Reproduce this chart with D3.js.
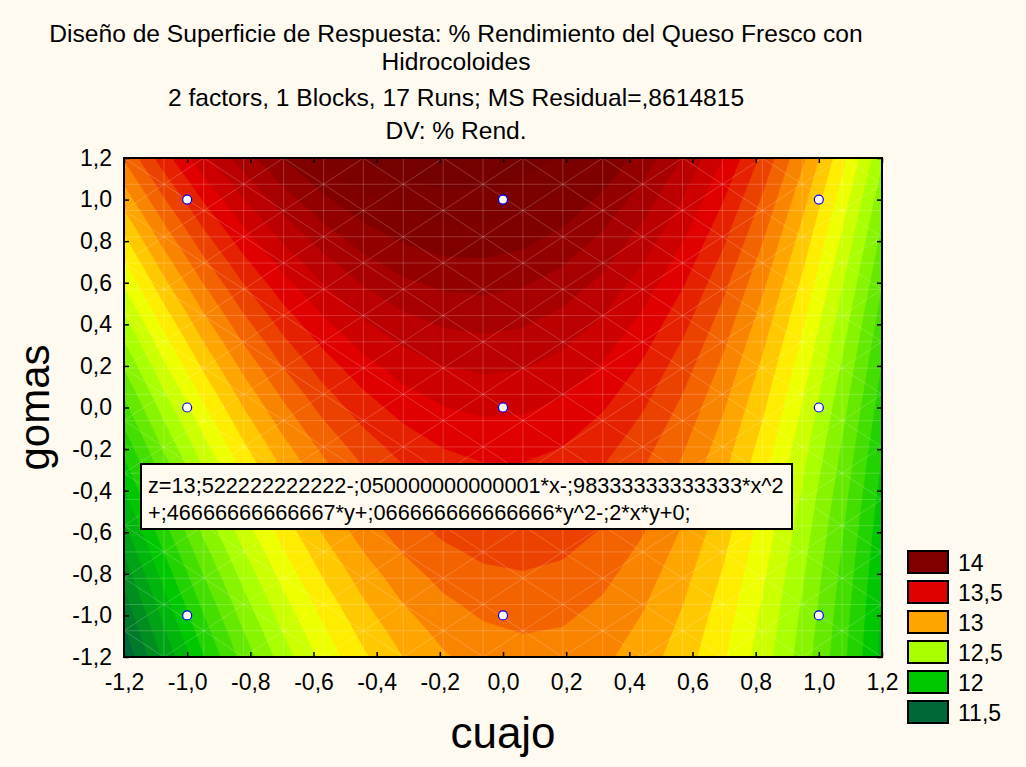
<!DOCTYPE html>
<html>
<head>
<meta charset="utf-8">
<script src="https://cdn.jsdelivr.net/npm/d3@7"></script>
<style>
  body { margin: 0; background: #fffaf0; }
  svg { display: block; font-family: Arial, "Liberation Sans", sans-serif; }
</style>
</head>
<body>
<div id="chart"></div>
<script>
// Fitted model shown on the chart: z = b0 + b1*x + b2*x^2 + b3*y + b4*y^2 + b5*x*y
const coefs = [13.522222222222, -0.050000000000001, -0.98333333333333, 0.46666666666667, 0.066666666666666, -0.2];

// Design points (cuajo, gomas)
const pointsX = [-1, 0, 1, -1, 0, 1, -1, 0, 1];
const pointsY = [1, 1, 1, 0, 0, 0, -1, -1, -1];

// Legend levels and colours
const legendLevels = [14, 13.5, 13, 12.5, 12, 11.5];
const legendColors = ["#800000", "#e00000", "#ffa500", "#aaff00", "#00c800", "#006837"];

const tickValues = [-1.2, -1.0, -0.8, -0.6, -0.4, -0.2, 0.0, 0.2, 0.4, 0.6, 0.8, 1.0, 1.2];

const titleLines = [
  "Diseño de Superficie de Respuesta: % Rendimiento del Queso Fresco con",
  "Hidrocoloides",
  "2 factors, 1 Blocks, 17 Runs; MS Residual=,8614815",
  "DV: % Rend."
];
const equationLines = [
  "z=13;522222222222-;050000000000001*x-;98333333333333*x^2",
  "+;46666666666667*y+;066666666666666*y^2-;2*x*y+0;"
];

const W = 1026, H = 767;
const plot = { left: 124, right: 882, top: 158, bottom: 657 };

const svg = d3.select("#chart").append("svg")
  .attr("width", W).attr("height", H);

svg.append("rect").attr("width", W).attr("height", H).attr("fill", "#fffaf0");

const x = d3.scaleLinear().domain([-1.2, 1.2]).range([plot.left, plot.right]);
const y = d3.scaleLinear().domain([-1.2, 1.2]).range([plot.bottom, plot.top]);

const fmt = v => d3.format(".1f")(v).replace("−", "-").replace(".", ",");

// colour ramp (yellow stop between 12,5 and 13)
const color = d3.scaleLinear()
  .domain([11.5, 12, 12.5, 12.75, 13, 13.5, 14, 14.3])
  .range(["#006837", "#00c800", "#aaff00", "#ffff00", "#ffa500", "#e00000", "#800000", "#700000"])
  .clamp(true);

function model(cx, cy) {
  const b = coefs;
  return b[0] + b[1] * cx + b[2] * cx * cx + b[3] * cy + b[4] * cy * cy + b[5] * cx * cy;
}

// coarse mesh, like the original surface grid
const nCells = 19;
const nNodes = nCells + 1;
const dx = 2.4 / nCells;
const values = [];
for (let j = 0; j < nNodes; j++) {
  for (let i = 0; i < nNodes; i++) {
    values.push(model(-1.2 + i * dx, 1.2 - j * dx));
  }
}

const thresholds = d3.range(11.0, 14.45, 0.1).map(t => +t.toFixed(2));
const contours = d3.contours().size([nNodes, nNodes]).thresholds(thresholds)(values);

const path = d3.geoPath(d3.geoTransform({
  point: function(gx, gy) {
    this.stream.point(x(-1.2 + (gx - 0.5) * dx), y(1.2 - (gy - 0.5) * dx));
  }
}));

svg.append("clipPath").attr("id", "clip")
  .append("rect")
  .attr("x", plot.left).attr("y", plot.top)
  .attr("width", plot.right - plot.left).attr("height", plot.bottom - plot.top);

const gPlot = svg.append("g").attr("clip-path", "url(#clip)");

gPlot.append("rect")
  .attr("x", plot.left).attr("y", plot.top)
  .attr("width", plot.right - plot.left).attr("height", plot.bottom - plot.top)
  .attr("fill", color(11.4));

gPlot.selectAll("path.band")
  .data(contours)
  .enter().append("path")
  .attr("class", "band")
  .attr("d", path)
  .attr("fill", d => color(d.value + 0.1))
  .attr("stroke", d => color(d.value + 0.1))
  .attr("stroke-width", 0.5);

// mesh lines
const mesh = gPlot.append("g")
  .attr("stroke", "#ffffff").attr("stroke-opacity", 0.25).attr("stroke-width", 0.8).attr("fill", "none");
for (let i = 0; i <= nCells; i++) {
  const v = -1.2 + i * dx;
  mesh.append("line").attr("x1", x(v)).attr("x2", x(v)).attr("y1", plot.top).attr("y2", plot.bottom);
  mesh.append("line").attr("x1", plot.left).attr("x2", plot.right).attr("y1", y(v)).attr("y2", y(v));
}
for (let i = 0; i < nCells; i++) {
  for (let j = 0; j < nCells; j++) {
    const x0 = -1.2 + i * dx, x1 = x0 + dx;
    const y0 = 1.2 - j * dx, y1 = y0 - dx;
    if ((i + j) % 2 === 0) {
      mesh.append("line").attr("x1", x(x0)).attr("y1", y(y0)).attr("x2", x(x1)).attr("y2", y(y1));
    } else {
      mesh.append("line").attr("x1", x(x0)).attr("y1", y(y1)).attr("x2", x(x1)).attr("y2", y(y0));
    }
  }
}

// frame
svg.append("rect")
  .attr("x", plot.left).attr("y", plot.top)
  .attr("width", plot.right - plot.left).attr("height", plot.bottom - plot.top)
  .attr("fill", "none").attr("stroke", "#000").attr("stroke-width", 2);

// axes with inward ticks
svg.append("g")
  .attr("transform", "translate(0," + plot.bottom + ")")
  .call(d3.axisBottom(x).tickValues(tickValues).tickSizeInner(-5).tickSizeOuter(0).tickPadding(17).tickFormat(fmt))
  .call(g => g.select(".domain").remove())
  .call(g => g.selectAll("text").attr("font-size", 23).attr("fill", "#000").attr("font-family", "Arial, 'Liberation Sans', sans-serif"));

svg.append("g")
  .attr("transform", "translate(0," + plot.top + ")")
  .call(d3.axisTop(x).tickValues(tickValues).tickSizeInner(-5).tickSizeOuter(0).tickFormat(""))
  .call(g => g.select(".domain").remove());

svg.append("g")
  .attr("transform", "translate(" + plot.left + ",0)")
  .call(d3.axisLeft(y).tickValues(tickValues).tickSizeInner(-5).tickSizeOuter(0).tickPadding(12).tickFormat(fmt))
  .call(g => g.select(".domain").remove())
  .call(g => g.selectAll("text").attr("font-size", 23).attr("fill", "#000").attr("font-family", "Arial, 'Liberation Sans', sans-serif"));

svg.append("g")
  .attr("transform", "translate(" + plot.right + ",0)")
  .call(d3.axisRight(y).tickValues(tickValues).tickSizeInner(-5).tickSizeOuter(0).tickFormat(""))
  .call(g => g.select(".domain").remove());

svg.selectAll(".tick line").attr("stroke", "#000").attr("stroke-width", 1.5);

// design points
svg.selectAll("circle.pt")
  .data(pointsX.map((px, i) => [px, pointsY[i]]))
  .enter().append("circle")
  .attr("class", "pt")
  .attr("cx", d => x(d[0]))
  .attr("cy", d => y(d[1]))
  .attr("r", 4.5)
  .attr("fill", "#fff")
  .attr("stroke", "#0000ff")
  .attr("stroke-width", 1.2);

// equation box
const eq = svg.append("g");
eq.append("rect")
  .attr("x", 141).attr("y", 464).attr("width", 651).attr("height", 65)
  .attr("fill", "#fffaf0").attr("stroke", "#000").attr("stroke-width", 2);
eq.selectAll("text")
  .data(equationLines)
  .enter().append("text")
  .attr("x", 148)
  .attr("y", (d, i) => 493 + i * 27)
  .attr("font-size", 21.7)
  .text(d => d);

// titles
svg.selectAll("text.title")
  .data(titleLines)
  .enter().append("text")
  .attr("class", "title")
  .attr("x", 456)
  .attr("y", (d, i) => [42, 70, 106, 139][i])
  .attr("text-anchor", "middle")
  .attr("font-size", 24.6)
  .text(d => d);

// axis titles
svg.append("text")
  .attr("x", 503).attr("y", 748)
  .attr("text-anchor", "middle")
  .attr("font-size", 44)
  .text("cuajo");

svg.append("text")
  .attr("transform", "translate(49," + y(0) + ") rotate(-90)")
  .attr("text-anchor", "middle")
  .attr("font-size", 42)
  .text("gomas");

// legend
const legend = svg.selectAll("g.legend")
  .data(legendLevels)
  .enter().append("g")
  .attr("class", "legend")
  .attr("transform", (d, i) => "translate(908," + (551 + i * 30) + ")");

legend.append("rect")
  .attr("width", 40).attr("height", 22)
  .attr("fill", (d, i) => legendColors[i])
  .attr("stroke", "#000").attr("stroke-width", 2);

legend.append("text")
  .attr("x", 50).attr("y", 20)
  .attr("font-size", 23)
  .text(d => String(d).replace(".", ","));
</script>
</body>
</html>
